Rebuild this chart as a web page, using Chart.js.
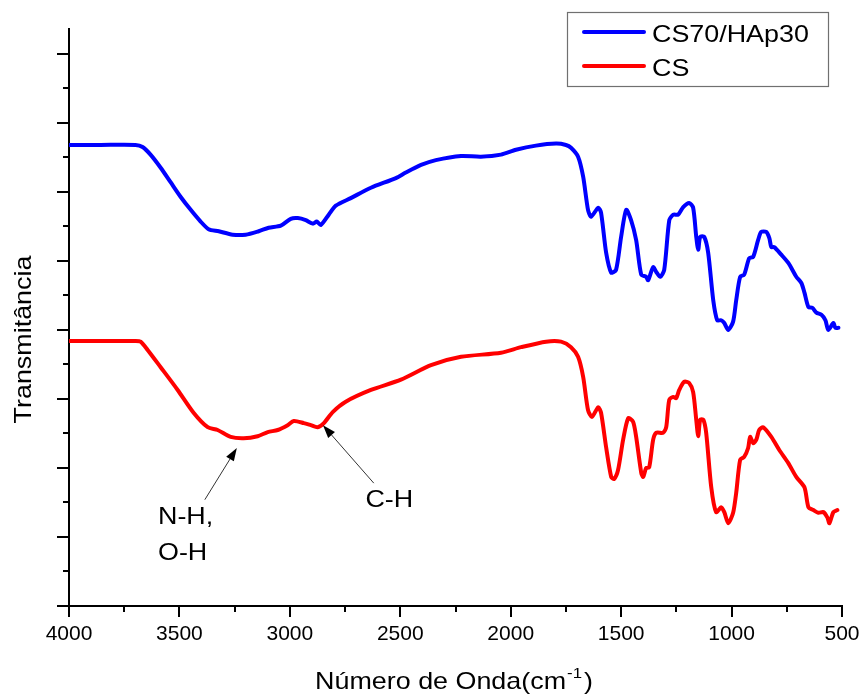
<!DOCTYPE html>
<html>
<head>
<meta charset="utf-8">
<title>FTIR CS / CS70-HAp30</title>
<script src="https://cdn.jsdelivr.net/npm/chart.js@4/dist/chart.umd.min.js"></script>
<style>
  html, body { margin: 0; padding: 0; background: #fff; }
  #wrap { width: 860px; height: 695px; }
</style>
</head>
<body>
<div id="wrap"><canvas id="c" width="860" height="695"></canvas></div>
<script>
// FTIR spectra: wavenumber (cm-1) and transmittance (arbitrary units)
const seriesNames = ['CS70/HAp30', 'CS'];

const hapWavenumber = [4000, 3857, 3699, 3667, 3631, 3585, 3540, 3495, 3449, 3404, 3368, 3322, 3259, 3200, 3141, 3096, 3041, 2996, 2964, 2928, 2896, 2878, 2860, 2824, 2792, 2724, 2633, 2520, 2475, 2406, 2339, 2225, 2135, 2044, 1976, 1886, 1795, 1750, 1727, 1695, 1672, 1650, 1636, 1604, 1591, 1568, 1545, 1523, 1500, 1477, 1455, 1432, 1409, 1387, 1378, 1355, 1341, 1323, 1305, 1282, 1264, 1242, 1219, 1192, 1174, 1160, 1151, 1142, 1124, 1106, 1083, 1065, 1047, 1033, 1015, 993, 979, 961, 943, 920, 902, 880, 866, 843, 829, 820, 807, 775, 743, 707, 684, 670, 652, 634, 616, 593, 575, 562, 539, 530, 516];
const hapTransmittance = [66.8, 66.8, 66.8, 66.5, 65.4, 63.5, 61.4, 59.3, 57.4, 55.7, 54.6, 54.3, 53.8, 53.8, 54.3, 54.8, 55.1, 56.1, 56.2, 55.9, 55.4, 55.7, 55.2, 56.7, 58.0, 59.1, 60.6, 62.0, 62.8, 63.9, 64.6, 65.2, 65.1, 65.4, 66.1, 66.7, 67.0, 66.8, 66.4, 65.1, 62.2, 57.4, 56.4, 57.7, 57.0, 51.2, 48.3, 48.7, 53.5, 57.4, 55.9, 53.0, 48.0, 47.7, 47.2, 49.1, 48.4, 47.7, 48.7, 55.9, 56.7, 56.7, 57.8, 58.4, 57.7, 53.5, 51.6, 53.5, 53.5, 51.2, 44.3, 41.4, 41.4, 41.0, 40.0, 41.2, 44.3, 47.7, 48.0, 50.4, 50.6, 53.0, 54.2, 54.2, 53.3, 52.0, 52.0, 50.9, 49.7, 47.7, 46.8, 45.4, 43.3, 43.2, 42.5, 42.2, 41.4, 40.0, 41.0, 40.3, 40.3];

const csWavenumber = [4000, 3699, 3676, 3644, 3585, 3508, 3436, 3372, 3327, 3268, 3209, 3146, 3100, 3055, 3010, 2982, 2937, 2905, 2874, 2846, 2806, 2747, 2633, 2497, 2361, 2225, 2044, 1953, 1840, 1772, 1727, 1695, 1672, 1650, 1632, 1604, 1591, 1568, 1545, 1532, 1514, 1491, 1468, 1446, 1432, 1409, 1400, 1387, 1373, 1355, 1341, 1310, 1296, 1282, 1264, 1251, 1237, 1214, 1192, 1174, 1160, 1151, 1142, 1128, 1115, 1092, 1070, 1047, 1033, 1015, 993, 979, 961, 943, 925, 916, 902, 888, 875, 857, 820, 784, 743, 707, 670, 652, 630, 607, 584, 566, 557, 539, 521];
const csTransmittance = [38.4, 38.4, 38.3, 37.1, 34.6, 31.3, 28.0, 25.9, 25.5, 24.5, 24.3, 24.6, 25.2, 25.5, 26.2, 26.8, 26.5, 26.2, 25.9, 26.5, 28.1, 29.6, 31.3, 32.8, 34.9, 36.1, 36.7, 37.5, 38.3, 38.3, 37.5, 36.1, 33.2, 28.4, 27.4, 28.8, 28.0, 23.0, 18.7, 18.4, 19.7, 24.1, 27.2, 26.7, 24.5, 19.3, 18.7, 20.0, 20.1, 24.1, 25.1, 25.1, 25.9, 29.9, 30.3, 30.1, 31.3, 32.5, 32.3, 31.0, 27.0, 24.6, 27.0, 27.0, 25.1, 17.2, 13.6, 14.3, 13.6, 12.0, 13.5, 16.4, 21.2, 21.6, 22.9, 24.5, 23.6, 24.1, 25.5, 25.9, 24.5, 22.6, 20.7, 18.7, 17.2, 14.3, 13.9, 13.5, 13.6, 12.8, 12.0, 13.6, 13.9];

const xTickStep = 500;
const xMinorStep = 250;
const yMinorStep = 5;
const yMajorStep = 10;

// band assignments marked on the CS spectrum
const bandNotes = [
  { lines: ['N-H,', 'O-H'], tip: [3240, 22.9], tail: [3385, 15.4], text: [3597, 11.9] },
  { lines: ['C-H'], tip: [2850, 26.2], tail: [2620, 17.8], text: [2658, 14.3] }
];

const FONT = '"Liberation Sans", Arial, sans-serif';
const STRETCH = 1.12;

function toPoints(xs, ys) { return xs.map((x, i) => ({ x: x, y: ys[i] })); }

function stretchedText(ctx, text, x, y, align) {
  ctx.save();
  ctx.translate(x, y);
  ctx.scale(STRETCH, 1);
  ctx.textAlign = align || 'left';
  ctx.fillText(text, 0, 0);
  ctx.restore();
}

// minor / major tick marks on both axes
const tickMarks = {
  id: 'tickMarks',
  afterDraw(chart) {
    const ctx = chart.ctx;
    const xs = chart.scales.x, ys = chart.scales.y;
    ctx.save();
    ctx.strokeStyle = '#000';
    ctx.lineWidth = 2;
    ctx.beginPath();
    for (let v = ys.min; v <= ys.max + 1e-6; v += yMinorStep) {
      const len = (Math.round(v) % yMajorStep === 0) ? 12 : 6;
      const py = Math.round(ys.getPixelForValue(v));
      ctx.moveTo(xs.left, py);
      ctx.lineTo(xs.left - len, py);
    }
    for (let v = xs.min; v <= xs.max + 1e-6; v += xMinorStep) {
      const len = (Math.round(v) % xTickStep === 0) ? 11 : 6;
      const px = Math.round(xs.getPixelForValue(v));
      ctx.moveTo(px, ys.bottom);
      ctx.lineTo(px, ys.bottom + len);
    }
    ctx.stroke();
    ctx.restore();
  }
};

// axis titles, legend box and band annotations
const decorations = {
  id: 'decorations',
  afterDraw(chart) {
    const ctx = chart.ctx;
    const xs = chart.scales.x, ys = chart.scales.y;
    ctx.save();
    ctx.fillStyle = '#000';
    ctx.textBaseline = 'alphabetic';

    // x title with superscript
    ctx.font = '24px ' + FONT;
    const main = 'Número de Onda(cm';
    const sup = '-1';
    const close = ')';
    const wMain = ctx.measureText(main).width * STRETCH;
    const wClose = ctx.measureText(close).width * STRETCH;
    ctx.font = '15px ' + FONT;
    const wSup = ctx.measureText(sup).width * STRETCH + 2;
    const total = wMain + wSup + wClose;
    const cx = (xs.left + xs.right) / 2;
    let tx = cx - total / 2 - 2;
    const base = 689;
    ctx.font = '24px ' + FONT;
    stretchedText(ctx, main, tx, base);
    tx += wMain + 1;
    ctx.font = '15px ' + FONT;
    stretchedText(ctx, sup, tx, base - 11);
    tx += wSup;
    ctx.font = '24px ' + FONT;
    stretchedText(ctx, close, tx, base);

    // y title
    ctx.save();
    ctx.translate(31, (ys.top + ys.bottom) / 2 + 22);
    ctx.rotate(-Math.PI / 2);
    ctx.font = '24px ' + FONT;
    stretchedText(ctx, 'Transmitância', 0, 0, 'center');
    ctx.restore();

    // legend
    const bx = 567, by = 12, bw = 261, bh = 74;
    ctx.strokeStyle = '#707070';
    ctx.lineWidth = 1.2;
    ctx.strokeRect(bx + 0.5, by + 0.5, bw, bh);
    chart.data.datasets.forEach((ds, i) => {
      const ly = by + 20 + i * 34;
      ctx.strokeStyle = ds.borderColor;
      ctx.lineWidth = 4;
      ctx.lineCap = 'round';
      ctx.beginPath();
      ctx.moveTo(584, ly);
      ctx.lineTo(644, ly);
      ctx.stroke();
      ctx.font = '24px ' + FONT;
      ctx.fillStyle = '#000';
      stretchedText(ctx, ds.label, 652, ly + 10);
    });

    // annotations
    bandNotes.forEach(n => {
      const tipX = xs.getPixelForValue(n.tip[0]), tipY = ys.getPixelForValue(n.tip[1]);
      const tailX = xs.getPixelForValue(n.tail[0]), tailY = ys.getPixelForValue(n.tail[1]);
      const ang = Math.atan2(tipY - tailY, tipX - tailX);
      const headLen = 13, headHalf = 4.5;
      const baseX = tipX - headLen * Math.cos(ang), baseY = tipY - headLen * Math.sin(ang);
      ctx.strokeStyle = '#333';
      ctx.lineWidth = 1;
      ctx.lineCap = 'butt';
      ctx.beginPath();
      ctx.moveTo(tailX, tailY);
      ctx.lineTo(baseX, baseY);
      ctx.stroke();
      ctx.fillStyle = '#000';
      ctx.beginPath();
      ctx.moveTo(tipX, tipY);
      ctx.lineTo(baseX + headHalf * Math.sin(ang), baseY - headHalf * Math.cos(ang));
      ctx.lineTo(baseX - headHalf * Math.sin(ang), baseY + headHalf * Math.cos(ang));
      ctx.closePath();
      ctx.fill();
      const lx = xs.getPixelForValue(n.text[0]);
      const ly = ys.getPixelForValue(n.text[1]);
      ctx.font = '24px ' + FONT;
      n.lines.forEach((t, k) => stretchedText(ctx, t, lx, ly + k * 36));
    });
    ctx.restore();
  }
};

new Chart(document.getElementById('c'), {
  type: 'scatter',
  data: {
    datasets: [
      { label: seriesNames[0], data: toPoints(hapWavenumber, hapTransmittance), borderColor: '#0000ff', backgroundColor: '#0000ff' },
      { label: seriesNames[1], data: toPoints(csWavenumber, csTransmittance), borderColor: '#ff0000', backgroundColor: '#ff0000' }
    ].map(d => Object.assign(d, { showLine: true, pointRadius: 0, borderWidth: 4, tension: 0.25, fill: false, borderJoinStyle: 'round', borderCapStyle: 'round' }))
  },
  options: {
    responsive: false,
    animation: false,
    devicePixelRatio: 1,
    layout: { padding: { left: 0, top: 29, right: 18, bottom: 0 } },
    plugins: { legend: { display: false }, tooltip: { enabled: false }, title: { display: false } },
    scales: {
      x: {
        type: 'linear', position: 'bottom', reverse: true, min: 500, max: 4000,
        grid: { display: false, drawTicks: false },
        border: { display: true, color: '#000', width: 2 },
        ticks: { stepSize: xTickStep, padding: 16, color: '#000', font: { family: FONT, size: 21 }, maxRotation: 0, autoSkip: false, callback: v => String(v) },
        afterFit(s) { s.height = 89; s.paddingLeft = 0; s.paddingRight = 0; }
      },
      y: {
        type: 'linear', min: 0, max: 83.6,
        grid: { display: false, drawTicks: false },
        border: { display: true, color: '#000', width: 2 },
        ticks: { display: false, stepSize: yMinorStep },
        afterFit(s) { s.width = 69; s.paddingTop = 0; s.paddingBottom = 0; }
      }
    }
  },
  plugins: [tickMarks, decorations]
});
</script>
</body>
</html>
